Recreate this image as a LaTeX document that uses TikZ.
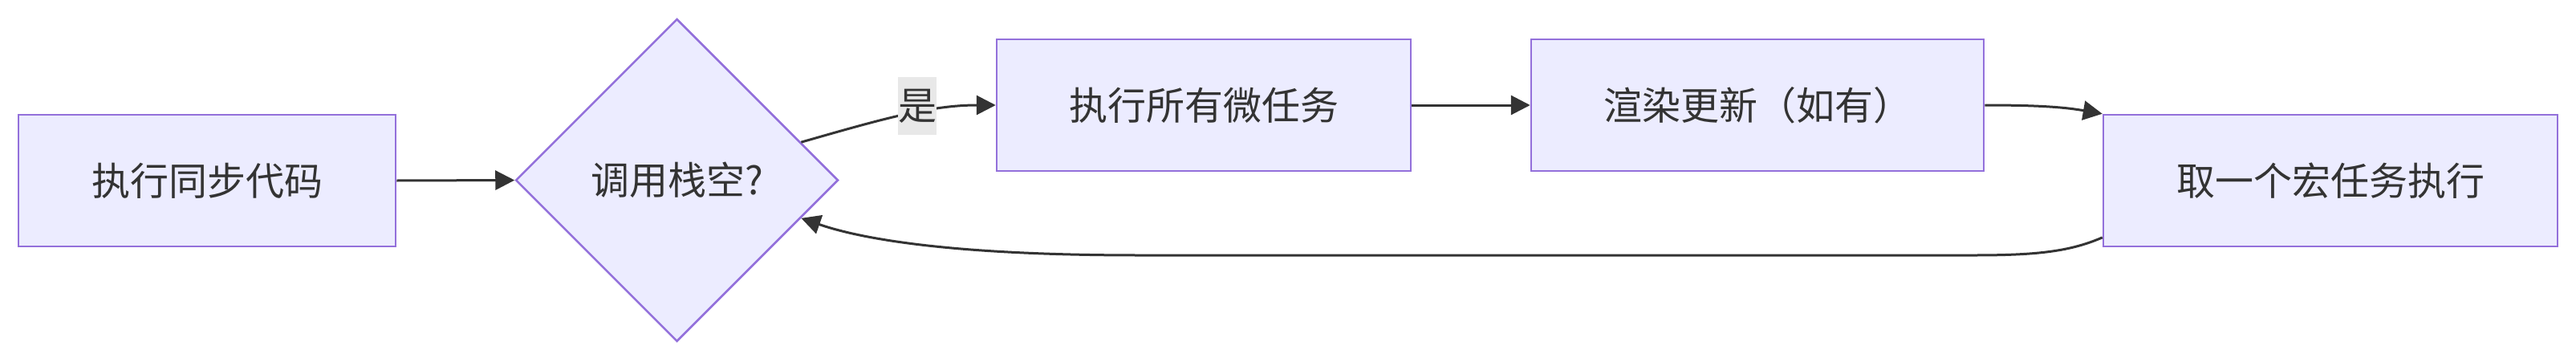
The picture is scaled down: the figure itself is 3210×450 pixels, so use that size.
\documentclass[tikz,border=0pt]{standalone}
\usepackage{fontspec}
\setmainfont{Noto Sans CJK SC}
\usetikzlibrary{arrows.meta,shapes.geometric}
\definecolor{nodefill}{HTML}{ECECFF}
\definecolor{nodeline}{HTML}{9370DB}
\definecolor{ink}{HTML}{333333}
\definecolor{lblbg}{HTML}{E8E8E8}
\tikzset{
  box/.style={draw=nodeline, fill=nodefill, line width=2.5pt, minimum height=164pt,
    inner sep=0pt, text=ink, font=\fontsize{48pt}{56pt}\selectfont},
  dia/.style={diamond, aspect=1, draw=nodeline, fill=nodefill, line width=2.5pt,
    minimum width=402pt, minimum height=402pt, inner sep=0pt, text=ink,
    font=\fontsize{48pt}{56pt}\selectfont},
  edge/.style={draw=ink, line width=3pt, -{Triangle[length=24pt,width=24pt]}},
  lbl/.style={fill=lblbg, text=ink, inner sep=0pt, minimum width=48pt, minimum height=72pt,
    font=\fontsize{48pt}{56pt}\selectfont}
}
\begin{document}
\begin{tikzpicture}[x=1pt,y=-1pt]
\useasboundingbox (0,0) rectangle (3210,450);
\node[box, minimum width=470pt] (a) at (258,225) {执行同步代码};
\node[dia] (b) at (843.5,224.5) {调用栈空?};
\node[box, minimum width=516pt] (c) at (1500,131) {执行所有微任务};
\node[box, minimum width=564pt] (d) at (2190,131) {渲染更新（如有）};
\node[box, minimum width=566pt] (e) at (2904,225) {取一个宏任务执行};

\draw[edge] (a.east) -- (b.west);
\draw[edge] (b.17) .. controls (1100,148) and (1160,131) .. (c.west);
\node[lbl] (l) at (1143,132) {是};
\draw[edge] (c.east) -- (d.west);
\draw[edge] (d.east) .. controls (2545,131) and (2575,134) .. (e.north west);
\draw[edge] (e.194.5) .. controls (2580,313) and (2540,318) .. (2460,318)
  -- (1420,318) .. controls (1200,318) and (1080,300) .. (b.-17);
\end{tikzpicture}
\end{document}
